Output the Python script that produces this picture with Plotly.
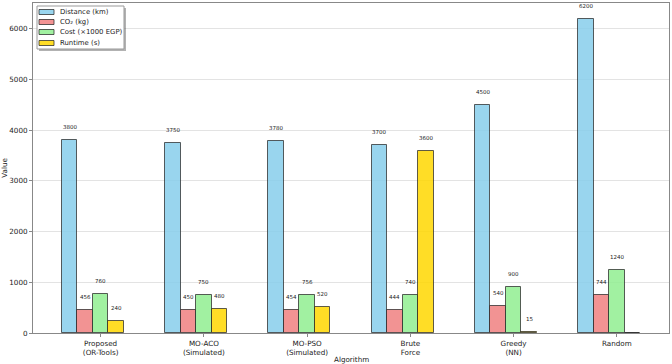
import plotly.graph_objects as go

algorithms = ["Proposed<br>(OR-Tools)", "MO-ACO<br>(Simulated)", "MO-PSO<br>(Simulated)",
              "Brute<br>Force", "Greedy<br>(NN)", "Random"]
distance = [3800, 3750, 3780, 3700, 4500, 6200]
co2 = [456, 450, 454, 444, 540, 744]
cost = [760, 750, 756, 740, 900, 1240]
runtime = [240, 480, 520, 3600, 15, 1]

series_names = ["Distance (km)", "CO₂ (kg)", "Cost (×1000 EGP)", "Runtime (s)"]
series_values = [distance, co2, cost, runtime]
colors = ["rgba(135,206,235,0.85)", "rgba(240,128,128,0.85)",
          "rgba(144,238,144,0.85)", "rgba(255,215,0,0.85)"]
offsets = [-0.3, -0.15, 0.0, 0.15]
bar_w = 0.15

# plot area in pixels
L, R, T, B = 33, 669, 3, 333
W, H = 672, 364
def px(x):
    return (x - L) / (R - L)
def py(y):
    return (B - y) / (B - T)

FS = 7.2
fig = go.Figure()
idx = list(range(len(algorithms)))
annotations = []
shapes = []
edge = "rgba(40,40,40,0.75)"
for name, vals, col, off in zip(series_names, series_values, colors, offsets):
    xs = [i + off for i in idx]
    fig.add_trace(go.Bar(
        x=xs, y=vals, width=bar_w, name=name, showlegend=False,
        marker=dict(color=col, line=dict(color=edge, width=1)),
    ))
    for xv, v in zip(xs, vals):
        if v >= 5:
            annotations.append(dict(x=xv, y=v, text=str(v), showarrow=False,
                                    yanchor="bottom", yshift=8, xref="x", yref="y",
                                    font=dict(size=5.5, color="#222")))

annotations.append(dict(x=0.5, y=py(359), xref="paper", yref="paper", text="Algorithm",
                        showarrow=False, yanchor="middle", font=dict(size=FS, color="#222")))

# legend (drawn manually to match compact matplotlib legend)
shapes.append(dict(type="rect", xref="paper", yref="paper",
                   x0=px(39), x1=px(126), y0=py(51), y1=py(8),
                   fillcolor="rgba(0,0,0,0.3)", line=dict(width=0), layer="above"))
shapes.append(dict(type="rect", xref="paper", yref="paper",
                   x0=px(37), x1=px(124), y0=py(49), y1=py(6),
                   fillcolor="white", line=dict(color="#999", width=1), layer="above"))
rows = [12, 22, 32, 43]
for name, col, ry in zip(series_names, colors, rows):
    shapes.append(dict(type="rect", xref="paper", yref="paper",
                       x0=px(39), x1=px(54), y0=py(ry + 2.5), y1=py(ry - 2.5),
                       fillcolor=col, line=dict(color=edge, width=1), layer="above"))
    annotations.append(dict(x=px(58), y=py(ry), xref="paper", yref="paper", text=name,
                            showarrow=False, xanchor="left", yanchor="middle",
                            font=dict(size=6.9, color="#222")))

fig.update_layout(
    width=W, height=H,
    margin=dict(l=L, r=W - R, t=T, b=H - B),
    paper_bgcolor="white", plot_bgcolor="white",
    font=dict(family="DejaVu Sans", size=FS, color="#222"),
    barmode="overlay",
    bargap=0,
    showlegend=False,
    annotations=annotations,
    shapes=shapes,
    xaxis=dict(range=[-0.655, 5.505], tickvals=idx, ticktext=algorithms,
               showgrid=False, showline=True, linecolor="#888", mirror=True,
               ticks="outside", ticklen=3, tickcolor="#888", zeroline=False,
               tickfont=dict(size=FS), automargin=False),
    yaxis=dict(range=[0, 6510], tickvals=[0, 1000, 2000, 3000, 4000, 5000, 6000],
               showgrid=True, gridcolor="rgba(200,200,200,0.5)", gridwidth=1,
               showline=True, linecolor="#888", mirror=True,
               ticks="outside", ticklen=3, tickcolor="#888", zeroline=False,
               title=dict(text="Value", standoff=7, font=dict(size=FS)),
               tickfont=dict(size=FS), automargin=False),
)

fig.write_html("out.html")
